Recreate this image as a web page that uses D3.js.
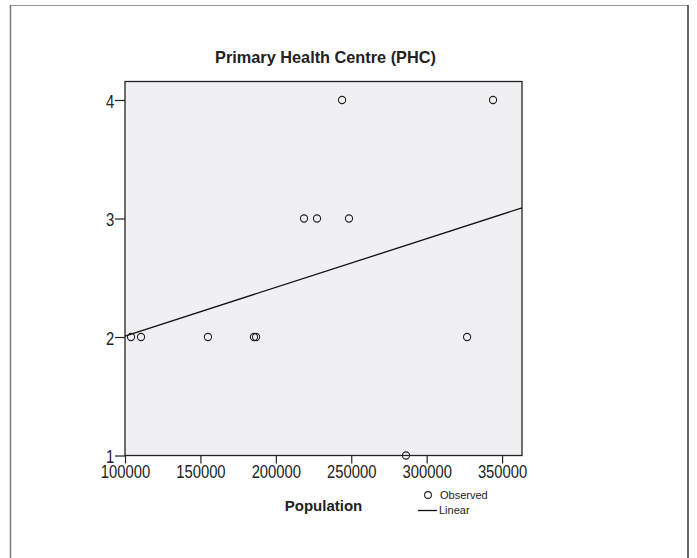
<!DOCTYPE html>
<html><head><meta charset="utf-8">
<script src="https://cdn.jsdelivr.net/npm/d3@7/dist/d3.min.js"></script>
<style>body{margin:0;background:#fff;}svg{display:block;}text{font-family:"Liberation Sans",Arial,sans-serif;}</style>
</head><body>
<script>
const title = "Primary Health Centre (PHC)";
const xLabel = "Population";
const population = [104000, 110600, 155000, 185500, 186900, 218700, 227300, 248500, 243900, 344000, 326800, 286300];
const phc = [2, 2, 2, 2, 2, 3, 3, 3, 4, 4, 2, 1];
const xTicks = [100000, 150000, 200000, 250000, 300000, 350000];
const yTicks = [1, 2, 3, 4];
const legendLabels = ["Observed", "Linear"];

const W = 697, H = 558;
const svg = d3.select("body").append("svg").attr("width", W).attr("height", H);

// outer frame
svg.append("line").attr("x1",10).attr("y1",5.5).attr("x2",688).attr("y2",5.5).attr("stroke","#999").attr("stroke-width",1.2);
svg.append("line").attr("x1",10.5).attr("y1",5).attr("x2",10.5).attr("y2",H).attr("stroke","#777").attr("stroke-width",1.5);
svg.append("line").attr("x1",688).attr("y1",5).attr("x2",688).attr("y2",H).attr("stroke","#333").attr("stroke-width",1.5);

const L = 125, R = 522, T = 81.5, B = 455.5;
const x = d3.scaleLinear().domain([100000, 363200]).range([L, R]);
const y = d3.scaleLinear().domain([1, 4]).range([B, 100]);

svg.append("rect").attr("x",L).attr("y",T).attr("width",R-L).attr("height",B-T)
  .attr("fill","#f0f0f2").attr("stroke","#222").attr("stroke-width",1.3);

// regression line (least squares)
const mx = d3.mean(population), my = d3.mean(phc);
const sxy = d3.sum(population, (v,i)=>(v-mx)*(phc[i]-my));
const sxx = d3.sum(population, v=>(v-mx)*(v-mx));
const b = sxy/sxx, a = my - b*mx;
const x0 = x.domain()[0], x1 = x.domain()[1];
svg.append("line").attr("x1",x(x0)).attr("y1",y(a+b*x0)).attr("x2",x(x1)).attr("y2",y(a+b*x1))
  .attr("stroke","#111").attr("stroke-width",1.3);

// points
svg.append("g").selectAll("circle").data(population).join("circle")
  .attr("cx",d=>x(d)).attr("cy",(d,i)=>y(phc[i])).attr("r",3.6)
  .attr("fill","none").attr("stroke","#222").attr("stroke-width",1.1);

// axes
const xAxis = svg.append("g").attr("transform",`translate(0,${B})`)
  .call(d3.axisBottom(x).tickValues(xTicks).tickFormat(d3.format("d")).tickSize(8).tickPadding(0));
const yAxis = svg.append("g").attr("transform",`translate(${L},0)`)
  .call(d3.axisLeft(y).tickValues(yTicks).tickFormat(d3.format("d")).tickSize(10).tickPadding(0));
[xAxis,yAxis].forEach(g=>{
  g.select(".domain").remove();
  g.selectAll("line").attr("stroke","#222").attr("stroke-width",1.2);
  g.selectAll("text").attr("font-size",18.5).attr("fill","#222").style("font-family","'Liberation Sans',Arial,sans-serif");
});
xAxis.selectAll("text").attr("y",9.5).attr("dy","0.71em").attr("transform","scale(0.8,1)");
yAxis.selectAll("text").attr("x",-13.5).attr("dy","0.4em").attr("transform","scale(0.8,1)");

// title
svg.append("text").attr("x",(L+R)/2+2).attr("y",63).attr("text-anchor","middle")
  .attr("font-size",16.3).attr("font-weight","bold").attr("fill","#222").text(title);

// x label
svg.append("text").attr("x",(L+R)/2).attr("y",511).attr("text-anchor","middle")
  .attr("font-size",15).attr("font-weight","bold").attr("fill","#222").text(xLabel);

// legend
svg.append("circle").attr("cx",428).attr("cy",495).attr("r",3.4).attr("fill","none").attr("stroke","#222").attr("stroke-width",1.1);
svg.append("text").attr("x",440).attr("y",499).attr("font-size",11).attr("fill","#222").text(legendLabels[0]);
svg.append("line").attr("x1",418).attr("y1",510.5).attr("x2",437).attr("y2",510.5).attr("stroke","#111").attr("stroke-width",1.3);
svg.append("text").attr("x",439).attr("y",514).attr("font-size",11).attr("fill","#222").text(legendLabels[1]);
</script>
</body></html>
